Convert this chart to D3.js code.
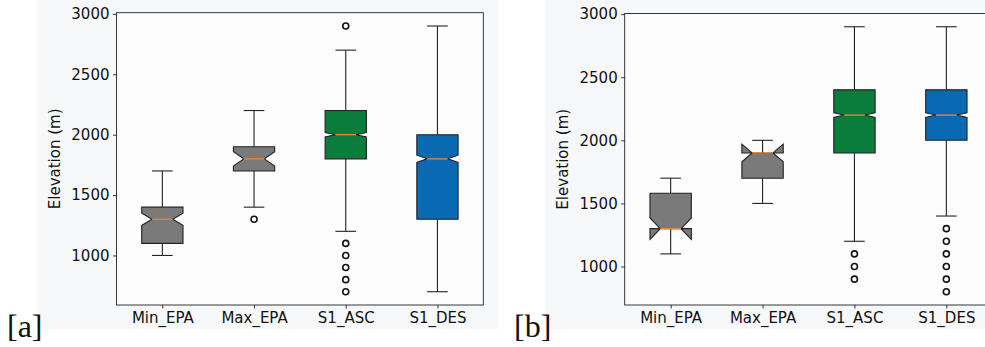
<!DOCTYPE html>
<html>
<head>
<meta charset="utf-8">
<script src="https://cdn.jsdelivr.net/npm/d3@7"></script>
<style>
  html, body { margin: 0; padding: 0; background: #ffffff; }
  svg { display: block; }
  text { font-family: "DejaVu Sans", sans-serif; }
  text.letter { font-family: "Liberation Serif", "DejaVu Serif", serif; }
</style>
</head>
<body>
<svg id="chart" width="985" height="347"></svg>
<script>
// ---------- data ----------
const categories = ["Min_EPA", "Max_EPA", "S1_ASC", "S1_DES"];
const boxColors = ["#7a7a7a", "#7a7a7a", "#0a7c3c", "#0a69b3"];
const yTicks = [1000, 1500, 2000, 2500, 3000];

// panel [a]
const aWhiskerLow  = [1000, 1400, 1200, 700];
const aQ1          = [1100, 1700, 1800, 1300];
const aMedian      = [1300, 1800, 2000, 1800];
const aQ3          = [1400, 1900, 2200, 2000];
const aWhiskerHigh = [1700, 2200, 2700, 2900];
const aNotchLow    = [1250, 1740, 1982, 1770];
const aNotchHigh   = [1350, 1860, 2018, 1830];
const aOutliers    = [[], [1300], [2900, 1100, 1000, 900, 800, 700], []];
const aYDomain     = [590, 3010];

// panel [b]
const bWhiskerLow  = [1100, 1500, 1200, 1400];
const bQ1          = [1300, 1700, 1900, 2000];
const bMedian      = [1300, 1900, 2200, 2200];
const bQ3          = [1580, 1900, 2400, 2400];
const bWhiskerHigh = [1700, 2000, 2900, 2900];
const bNotchLow    = [1215, 1830, 2182, 2182];
const bNotchHigh   = [1385, 1970, 2218, 2218];
const bOutliers    = [[], [], [1100, 1000, 900], [1300, 1200, 1100, 1000, 900, 800]];
const bYDomain     = [695, 3005];

// ---------- drawing ----------
const svg = d3.select("#chart");

function panel(opts) {
  const { left, right, top, bottom, yDomain, wl, q1, med, q3, wh, nlo, nhi, outl, letter, letterX, ylabelX } = opts;
  const g = svg.append("g");

  g.append("rect").attr("x", left - 80).attr("y", 0).attr("width", right - left + 95).attr("height", bottom + 24)
    .attr("fill", "#f7f8fa");
  g.append("rect").attr("x", left).attr("y", top).attr("width", right - left).attr("height", bottom - top)
    .attr("fill", "#fdfdfe");

  const x = d3.scaleLinear().domain([0.5, 4.5]).range([left, right]);
  const y = d3.scaleLinear().domain(yDomain).range([bottom, top]);
  const half = (x(1.225) - x(1));   // box width 0.45 in data units
  const capHalf = half / 2;

  categories.forEach((c, i) => {
    const p = x(i + 1);
    const bl = p - half, br = p + half, nl = p - half / 2, nr = p + half / 2;
    // whiskers
    g.append("line").attr("x1", p).attr("x2", p).attr("y1", y(q1[i])).attr("y2", y(wl[i]))
      .attr("stroke", "#222").attr("stroke-width", 1.1);
    g.append("line").attr("x1", p).attr("x2", p).attr("y1", y(q3[i])).attr("y2", y(wh[i]))
      .attr("stroke", "#222").attr("stroke-width", 1.1);
    g.append("line").attr("x1", p - capHalf).attr("x2", p + capHalf).attr("y1", y(wl[i])).attr("y2", y(wl[i]))
      .attr("stroke", "#222").attr("stroke-width", 1.1);
    g.append("line").attr("x1", p - capHalf).attr("x2", p + capHalf).attr("y1", y(wh[i])).attr("y2", y(wh[i]))
      .attr("stroke", "#222").attr("stroke-width", 1.1);
    // notched box
    const pts = [
      [bl, q1[i]], [br, q1[i]], [br, nlo[i]], [nr, med[i]], [br, nhi[i]], [br, q3[i]],
      [bl, q3[i]], [bl, nhi[i]], [nl, med[i]], [bl, nlo[i]], [bl, q1[i]]
    ];
    g.append("path")
      .attr("d", d3.line().x(d => d[0]).y(d => y(d[1]))(pts) + "Z")
      .attr("fill", boxColors[i]).attr("stroke", "#222").attr("stroke-width", 1.1)
      .attr("stroke-linejoin", "miter");
    // median
    g.append("line").attr("x1", nl).attr("x2", nr).attr("y1", y(med[i])).attr("y2", y(med[i]))
      .attr("stroke", "#e8873a").attr("stroke-width", 1.3);
    // outliers
    outl[i].forEach(v => {
      g.append("circle").attr("cx", p).attr("cy", y(v)).attr("r", 3)
        .attr("fill", "#fff").attr("stroke", "#111").attr("stroke-width", 1.6);
    });
  });

  // axes
  const ya = g.append("g").attr("transform", `translate(${left},0)`)
    .call(d3.axisLeft(y).tickValues(yTicks).tickSize(3.5).tickPadding(3.5).tickFormat(d3.format("d")));
  const xa = g.append("g").attr("transform", `translate(0,${bottom})`)
    .call(d3.axisBottom(x).tickValues([1, 2, 3, 4]).tickSize(3.5).tickPadding(4).tickFormat(d => categories[d - 1]));
  [ya, xa].forEach(a => {
    a.select(".domain").remove();
    a.selectAll(".tick line").attr("stroke", "#222").attr("stroke-width", 0.9);
    a.selectAll(".tick text").attr("font-size", 15).attr("fill", "#111");
  });

  // spines
  g.append("rect").attr("x", left).attr("y", top).attr("width", right - left).attr("height", bottom - top)
    .attr("fill", "none").attr("stroke", "#222").attr("stroke-width", 0.9);

  // y label
  g.append("text").attr("transform", `translate(${ylabelX},${(top + bottom) / 2}) rotate(-90)`)
    .attr("text-anchor", "middle").attr("dy", "0.35em").attr("font-size", 15).attr("fill", "#111")
    .text("Elevation (m)");

  // panel letter
  svg.append("text").attr("class", "letter").attr("x", letterX).attr("y", 337)
    .attr("font-size", 32).attr("fill", "#111")
    .text(letter);
}

panel({ left: 116.5, right: 483.3, top: 12.7, bottom: 305, yDomain: aYDomain,
  wl: aWhiskerLow, q1: aQ1, med: aMedian, q3: aQ3, wh: aWhiskerHigh, nlo: aNotchLow, nhi: aNotchHigh, outl: aOutliers,
  letter: "[a]", letterX: 7, ylabelX: 55 });
panel({ left: 624.7, right: 992.3, top: 13.5, bottom: 305, yDomain: bYDomain,
  wl: bWhiskerLow, q1: bQ1, med: bMedian, q3: bQ3, wh: bWhiskerHigh, nlo: bNotchLow, nhi: bNotchHigh, outl: bOutliers,
  letter: "[b]", letterX: 514, ylabelX: 563 });
</script>
</body>
</html>
